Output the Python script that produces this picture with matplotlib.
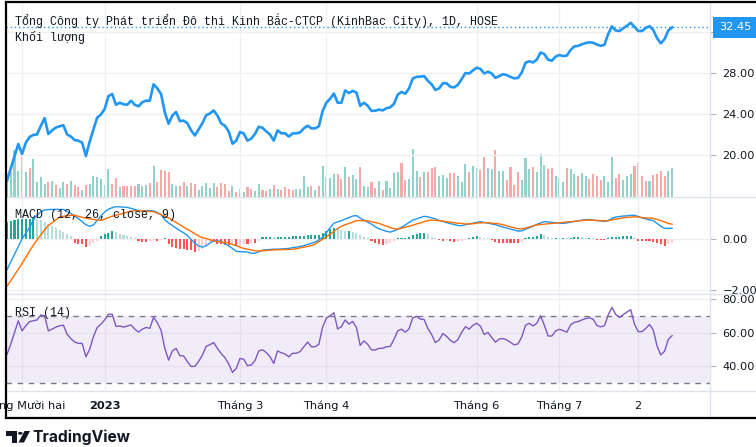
import numpy as np
import matplotlib.pyplot as plt
from matplotlib.lines import Line2D
from matplotlib.patches import Polygon, Circle
import matplotlib.transforms as mtransforms

# ---- data (one value per daily bar) ----
price = [17.5, 18.7, 19.9, 21.07, 20.1, 21.2, 21.75, 21.96, 22.0, 22.85,
         23.6, 22.05, 22.4, 22.68, 22.8, 22.9, 22.0, 21.8, 21.45, 21.4,
         21.2, 19.9, 21.3, 22.5, 23.65, 23.95, 24.5, 25.75, 25.95, 24.9,
         25.1, 24.95, 24.9, 25.3, 24.9, 24.75, 25.15, 25.3, 25.3, 26.9,
         26.5, 25.95, 24.15, 23.05, 23.85, 24.2, 23.3, 23.35, 23.1, 22.4,
         21.9, 22.5, 23.1, 23.88, 24.05, 24.35, 23.85, 23.08, 22.85, 22.3,
         21.1, 21.4, 22.24, 22.1, 21.4, 21.6, 22.05, 22.76, 22.65, 22.3,
         22.0, 21.4, 22.4, 22.12, 22.12, 21.8, 22.1, 22.12, 22.2, 22.6,
         22.85, 22.6, 22.6, 22.8, 24.3, 25.1, 25.5, 26.0, 25.1, 25.1,
         26.3, 26.05, 26.25, 26.1, 24.8, 25.1, 24.8, 24.3, 24.32, 24.43,
         24.35, 24.57, 24.65, 25.0, 25.9, 26.15, 25.98, 26.5, 27.47, 27.62,
         27.65, 27.7, 27.25, 26.9, 26.35, 26.5, 27.0, 27.0, 26.65, 26.6,
         26.85, 27.4, 28.0, 27.95, 28.25, 28.52, 28.4, 27.95, 28.13, 27.95,
         27.52, 27.7, 27.88, 27.8, 27.62, 27.48, 27.52, 28.05, 29.0, 29.15,
         29.03, 29.3, 30.0, 29.85, 29.3, 29.2, 29.6, 29.76, 29.65, 29.7,
         30.25, 30.6, 30.65, 30.8, 30.92, 31.0, 30.95, 30.78, 30.65, 30.75,
         31.8, 32.55, 32.15, 32.1, 32.36, 32.62, 32.9, 32.5, 32.1, 32.1,
         32.4, 32.57, 32.2, 31.4, 30.9, 31.3, 32.15, 32.45]

volume = [22.7, 25, 46.7, 26, 41.7, 25, 29.3, 38.3, 15.3, 20,
          13.3, 15, 16, 12, 9, 15.3, 13.3, 16, 12, 10,
          7, 12.3, 13, 21, 20, 18.3, 12, 28, 13, 19.3,
          10, 11, 11, 11, 11, 13, 11, 12, 14, 31,
          15, 27, 26, 25, 13, 11, 11, 15, 11, 13.7,
          12.7, 6.7, 11, 14, 9, 13.7, 10, 13.7, 12.7, 6,
          11, 5, 8, 5, 10, 7.7, 6, 13, 7, 5.7,
          8, 12, 8, 6.7, 10, 8, 7, 7.7, 8, 21,
          10, 11, 7, 11, 31, 20, 19, 23, 23, 18.3,
          30, 20, 22, 18, 30.3, 11, 10, 15.3, 9.3, 16,
          7, 16, 9, 24, 25, 34, 17, 18, 48, 26,
          20, 25, 25, 29, 30, 21, 22, 19, 24, 24,
          21, 15, 33, 25, 31, 29, 27, 40, 29, 28,
          47, 26, 26, 17, 30, 12, 25, 17, 39, 28,
          30, 25, 43, 32, 28, 29, 21, 19, 15, 29,
          28, 23, 21, 24, 21, 18, 23, 21, 17, 21,
          15, 40, 19, 23, 17, 21, 23, 31, 34, 21,
          16, 16, 22, 23, 26, 21, 26, 29]

vol_up = [1, 1, 1, 1, 0, 1, 0, 1, 1, 1,
          1, 0, 1, 0, 1, 1, 0, 1, 0, 0,
          1, 0, 1, 1, 1, 1, 1, 1, 0, 0,
          1, 0, 0, 0, 0, 1, 1, 1, 0, 1,
          0, 0, 0, 0, 1, 1, 0, 0, 1, 0,
          0, 1, 1, 1, 1, 1, 0, 0, 0, 0,
          1, 0, 1, 1, 0, 0, 1, 1, 0, 0,
          1, 0, 1, 0, 0, 0, 0, 1, 1, 1,
          1, 0, 1, 0, 1, 1, 1, 1, 0, 0,
          1, 0, 1, 1, 0, 1, 1, 0, 0, 1,
          0, 1, 1, 1, 1, 0, 0, 1, 1, 1,
          0, 1, 0, 0, 0, 1, 1, 1, 0, 0,
          1, 1, 1, 0, 1, 1, 0, 0, 1, 1,
          0, 1, 1, 0, 0, 0, 0, 1, 1, 1,
          0, 1, 1, 1, 0, 0, 1, 1, 1, 0,
          1, 1, 0, 1, 1, 0, 0, 0, 0, 1,
          1, 1, 0, 0, 1, 1, 1, 0, 0, 0,
          0, 1, 0, 0, 0, 0, 1, 1]

macd = [-1.2, -0.9, -0.6, -0.3, 0.0, 0.23, 0.45, 0.74, 0.94, 1.06,
        1.14, 1.15, 1.16, 1.16, 1.16, 1.16, 1.08, 1.0, 0.9, 0.8,
        0.68, 0.56, 0.5, 0.55, 0.73, 0.9, 1.06, 1.17, 1.23, 1.27,
        1.26, 1.25, 1.24, 1.2, 1.16, 1.12, 1.11, 1.11, 1.11, 1.1,
        1.04, 0.95, 0.75, 0.63, 0.53, 0.43, 0.33, 0.24, 0.14, -0.02,
        -0.16, -0.27, -0.32, -0.26, -0.16, -0.07, -0.07, -0.1, -0.18, -0.27,
        -0.37, -0.48, -0.5, -0.5, -0.51, -0.56, -0.56, -0.5, -0.44, -0.42,
        -0.41, -0.4, -0.4, -0.39, -0.38, -0.37, -0.34, -0.32, -0.29, -0.26,
        -0.21, -0.17, -0.12, -0.04, 0.07, 0.25, 0.44, 0.62, 0.67, 0.72,
        0.78, 0.84, 0.9, 0.92, 0.82, 0.74, 0.66, 0.58, 0.48, 0.4,
        0.35, 0.3, 0.27, 0.32, 0.38, 0.46, 0.55, 0.65, 0.74, 0.79,
        0.84, 0.89, 0.87, 0.83, 0.79, 0.73, 0.69, 0.64, 0.6, 0.57,
        0.53, 0.52, 0.56, 0.59, 0.62, 0.65, 0.68, 0.65, 0.62, 0.59,
        0.56, 0.51, 0.47, 0.43, 0.39, 0.35, 0.31, 0.32, 0.38, 0.44,
        0.5, 0.57, 0.63, 0.68, 0.67, 0.65, 0.64, 0.62, 0.61, 0.63,
        0.66, 0.69, 0.71, 0.74, 0.76, 0.76, 0.74, 0.72, 0.71, 0.69,
        0.72, 0.81, 0.86, 0.88, 0.9, 0.91, 0.93, 0.93, 0.88, 0.83,
        0.79, 0.75, 0.72, 0.61, 0.5, 0.42, 0.42, 0.42]

signal = [-1.85, -1.63, -1.41, -1.19, -0.96, -0.72, -0.48, -0.24, -0.04, 0.16,
          0.36, 0.53, 0.64, 0.75, 0.86, 0.89, 0.91, 0.93, 0.93, 0.89,
          0.85, 0.82, 0.79, 0.77, 0.74, 0.73, 0.78, 0.84, 0.89, 0.93,
          0.97, 1.01, 1.05, 1.09, 1.11, 1.11, 1.1, 1.09, 1.08, 1.07,
          1.01, 0.96, 0.9, 0.83, 0.74, 0.65, 0.56, 0.47, 0.38, 0.3,
          0.21, 0.12, 0.05, 0.02, -0.03, -0.07, -0.1, -0.12, -0.14, -0.16,
          -0.21, -0.26, -0.32, -0.37, -0.4, -0.43, -0.46, -0.47, -0.46, -0.45,
          -0.44, -0.43, -0.42, -0.42, -0.41, -0.41, -0.4, -0.38, -0.35, -0.32,
          -0.29, -0.26, -0.2, -0.1, -0.01, 0.08, 0.19, 0.3, 0.41, 0.5,
          0.56, 0.61, 0.66, 0.72, 0.72, 0.72, 0.71, 0.68, 0.65, 0.61,
          0.56, 0.5, 0.45, 0.4, 0.39, 0.42, 0.46, 0.5, 0.54, 0.59,
          0.63, 0.68, 0.72, 0.74, 0.73, 0.72, 0.7, 0.68, 0.66, 0.64,
          0.62, 0.61, 0.59, 0.59, 0.6, 0.62, 0.63, 0.64, 0.64, 0.62,
          0.61, 0.59, 0.56, 0.52, 0.48, 0.44, 0.4, 0.4, 0.43, 0.47,
          0.51, 0.55, 0.57, 0.58, 0.6, 0.61, 0.62, 0.64, 0.65, 0.67,
          0.68, 0.69, 0.71, 0.72, 0.74, 0.74, 0.74, 0.73, 0.72, 0.71,
          0.72, 0.75, 0.78, 0.8, 0.83, 0.85, 0.86, 0.87, 0.86, 0.84,
          0.83, 0.82, 0.81, 0.77, 0.72, 0.67, 0.61, 0.58]

hist = [0.67, 0.71, 0.75, 0.78, 0.8, 0.8, 0.8, 0.82, 0.78, 0.75,
        0.67, 0.59, 0.51, 0.43, 0.35, 0.27, 0.2, 0.12, -0.16, -0.18,
        -0.2, -0.31, -0.27, -0.16, -0.06, 0.12, 0.18, 0.24, 0.31, 0.27,
        0.2, 0.16, 0.12, 0.08, 0.04, -0.08, -0.1, -0.1, -0.08, -0.04,
        -0.06, -0.04, 0.04, -0.2, -0.31, -0.35, -0.39, -0.39, -0.43, -0.43,
        -0.51, -0.47, -0.39, -0.24, -0.12, -0.12, -0.2, -0.2, -0.24, -0.24,
        -0.2, -0.27, -0.24, -0.2, -0.2, -0.16, -0.16, -0.08, 0.08, 0.08,
        0.08, 0.06, 0.08, 0.08, 0.08, 0.08, 0.1, 0.1, 0.12, 0.12,
        0.14, 0.14, 0.14, 0.16, 0.24, 0.31, 0.39, 0.43, 0.39, 0.35,
        0.31, 0.31, 0.27, 0.24, 0.16, 0.08, 0.04, -0.08, -0.16, -0.2,
        -0.24, -0.2, -0.16, -0.08, 0.02, 0.03, 0.04, 0.08, 0.16, 0.2,
        0.24, 0.24, 0.2, 0.08, 0.04, -0.04, -0.06, -0.04, -0.08, -0.12,
        -0.1, -0.06, -0.02, 0.04, 0.06, 0.1, 0.06, 0.04, 0.02, -0.04,
        -0.12, -0.14, -0.14, -0.14, -0.14, -0.14, -0.16, -0.12, 0.04, 0.06,
        0.08, 0.12, 0.18, 0.14, 0.08, 0.04, 0.04, 0.02, 0.04, 0.03,
        0.04, 0.06, 0.08, 0.06, 0.04, 0.04, 0.02, -0.02, -0.04, -0.04,
        0.04, 0.08, 0.08, 0.08, 0.1, 0.1, 0.1, 0.04, -0.06, -0.08,
        -0.08, -0.08, -0.12, -0.16, -0.2, -0.27, -0.2, -0.16]

rsi = [47, 53, 60, 67, 61, 64, 66.5, 67, 67.5, 70.5,
       70, 61, 62, 63.2, 64, 64.4, 59, 56.3, 54.3, 53.5,
       53.5, 45.5, 50, 57.5, 63, 65, 67.5, 70.9, 70.9, 63.6,
       63.9, 63.2, 63.9, 64.5, 62, 60.3, 62, 63, 62.5, 69,
       65.9, 61.3, 50.5, 43.5, 49, 50.5, 46.2, 46, 42.6, 39.7,
       39.8, 42.7, 46.5, 51.7, 52.7, 54, 50.5, 47.4, 45, 41.2,
       36.2, 38.5, 44.5, 44, 40.2, 40.6, 43.2, 49, 49.7, 48,
       45.5, 41.5, 49, 47.9, 47.2, 45.5, 47.6, 47.6, 48.6, 51.5,
       54.3, 51.5, 51.5, 53, 63.3, 68.6, 70, 71.8, 62.1, 63.5,
       67.5, 65, 66.6, 63, 52.3, 55, 52.9, 49.6, 49.6, 50.5,
       50.6, 51.5, 51.7, 56, 61, 62, 60.2, 62.2, 68.8, 69.7,
       68, 67.8, 62.5, 58.8, 54, 55.5, 59.4, 57.7, 55.3, 53.9,
       55.8, 60, 63.5, 62, 64.3, 65.5, 63.8, 58.8, 60, 57,
       54.2, 56.1, 56.4, 55.6, 54.1, 52.6, 53.2, 57.3, 64.3, 65.5,
       63.9, 65.5, 70, 64.4, 57.9, 57.9, 60.9, 61.9, 61.2, 60.2,
       64.6, 66.1, 66.5, 67.5, 68.3, 68.8, 67.9, 64.2, 63.4, 64,
       70.5, 75, 70.8, 69, 70.7, 72.2, 73.6, 65, 60.5, 60.5,
       62.4, 64.8, 61.5, 52, 46.6, 48.8, 55.8, 58.1]

month_idx = [4, 26, 62, 85, 125, 147, 168]
month_labels = ['Tháng Mười hai', '2023', 'Tháng 3', 'Tháng 4', 'Tháng 6', 'Tháng 7', '2']
title = 'Tổng Công ty Phát triển Đô thi Kinh Bắc-CTCP (KinhBac City), 1D, HOSE'

# ---- layout (pixel geometry of the TradingView screenshot) ----
W, H = 756, 447
fig = plt.figure(figsize=(W / 100, H / 100), dpi=100)
fig.patch.set_facecolor('white')


def rect(top, bottom, left=6, right=710):
    return [left / W, 1 - bottom / H, (right - left) / W, (bottom - top) / H]


def fy(y):
    return 1 - y / H


x = np.arange(len(price))
xlim = (-0.27, 187.1)
grid_c = '#f0f0f3'
txt_c = '#131722'


def style(ax, yt, ylab):
    ax.set_xlim(xlim)
    ax.patch.set_alpha(0)
    for s in ax.spines.values():
        s.set_visible(False)
    ax.yaxis.tick_right()
    ax.set_yticks(yt)
    ax.set_yticklabels(ylab)
    ax.set_xticks(month_idx)
    ax.tick_params(axis='y', length=4, width=0.8, color='#b2b5be', pad=5,
                   labelsize=8.2, labelcolor=txt_c)
    ax.tick_params(axis='x', length=0, labelbottom=False)
    ax.grid(True, color=grid_c, lw=1)
    ax.set_axisbelow(True)


# volume (behind the price)
ax_vol = fig.add_axes(rect(2, 197))
ax_vol.bar(x, volume, width=0.55,
           color=['#92d2cc' if u else '#f7a9a7' for u in vol_up])
ax_vol.set_xlim(xlim)
ax_vol.set_ylim(0, max(volume) * 4.06)
ax_vol.axis('off')

# price
ax = fig.add_axes(rect(2, 197))
style(ax, [20, 24, 28, 32], ['20.00', '24.00', '28.00', ''])
ax.set_ylim(15.9, 34.93)
ax.plot(x, price, color='#2196f3', lw=1.9, solid_joinstyle='round')
last = price[-1]
ax.axhline(last, color='#2196f3', lw=1, ls=(0, (1, 2)))
tr = mtransforms.blended_transform_factory(ax.transAxes, ax.transData)
ax.text((719 - 6) / 704, last, f'{last:.2f}', transform=tr, va='center', ha='left',
        fontsize=8.2, color='white',
        bbox=dict(boxstyle='square,pad=0.5', fc='#2196f3', ec='none'))

# MACD
ax_m = fig.add_axes(rect(197, 294))
style(ax_m, [-2, 0], ['\u22122.00', '0.00'])
ax_m.set_ylim(-2.157, 1.647)
hcol = []
for i, h in enumerate(hist):
    prev = hist[i - 1] if i else h
    if h >= 0:
        hcol.append('#26a69a' if h >= prev else '#b2dfdb')
    else:
        hcol.append('#ff5252' if h <= prev else '#ffcdd2')
ax_m.bar(x, hist, width=0.55, color=hcol)
ax_m.plot(x, macd, color='#2196f3', lw=1.0)
ax_m.plot(x, signal, color='#ff6d00', lw=1.0)

# RSI
ax_r = fig.add_axes(rect(294, 391))
style(ax_r, [40, 60, 80], ['40.00', '60.00', '80.00'])
ax_r.set_ylim(25.07, 82.99)
ax_r.axhspan(30, 70, color='#7e57c2', alpha=0.1, lw=0)
for lv in (30, 70):
    ax_r.axhline(lv, color='#787b86', lw=1, ls=(0, (4, 4)))
ax_r.plot(x, rsi, color='#7e57c2', lw=1.0)
ax_r.tick_params(axis='x', labelbottom=True, pad=7, labelsize=8.2, labelcolor=txt_c)
ax_r.set_xticklabels(month_labels)
for t in ax_r.get_xticklabels():
    if t.get_text() == '2023':
        t.set_fontweight('bold')

# pane separators and frame
sep = '#e0e3eb'
for y in (197, 294, 391):
    fig.add_artist(Line2D([6 / W, 1], [fy(y), fy(y)], color=sep, lw=1))
fig.add_artist(Line2D([710 / W, 710 / W], [fy(2), fy(418)], color=sep, lw=1))
for xs, ys in [([6 / W, 1], [fy(2), fy(2)]), ([6 / W, 1], [fy(418), fy(418)]),
               ([6 / W, 6 / W], [fy(2), fy(418)])]:
    fig.add_artist(Line2D(xs, ys, color='black', lw=1.6))

# pane titles (monospace with Vietnamese glyphs)
mono = dict(family=['Liberation Mono', 'DejaVu Sans Mono', 'DejaVu Sans'],
            fontsize=8.4, color=txt_c, va='center')
fig.text(15 / W, fy(21), title, **mono)
fig.text(15 / W, fy(37), 'Khối lượng', **mono)
fig.text(15 / W, fy(215), 'MACD (12, 26, close, 9)', **mono)
fig.text(15 / W, fy(313), 'RSI (14)', **mono)

# TradingView logo
px = fig.transFigure


def P(xp, yp):
    return (xp / W, fy(yp))


fig.add_artist(Polygon([P(6, 431), P(17, 431), P(17, 442.5), P(11.5, 442.5),
                        P(11.5, 435.5), P(6, 435.5)], closed=True, fc=txt_c, ec='none',
                       transform=px))
fig.add_artist(Circle(P(20.3, 433.3), 2.3 / W, fc=txt_c, ec='none', transform=px))
fig.add_artist(Polygon([P(18.5, 442.5), P(24.5, 431), P(30, 431), P(24, 442.5)],
                       closed=True, fc=txt_c, ec='none', transform=px))
fig.text(32 / W, fy(437), 'TradingView', fontfamily='Inter', fontweight='bold',
         fontsize=11.2, color=txt_c, va='center', ha='left')

fig.savefig('out.png', dpi=100)
